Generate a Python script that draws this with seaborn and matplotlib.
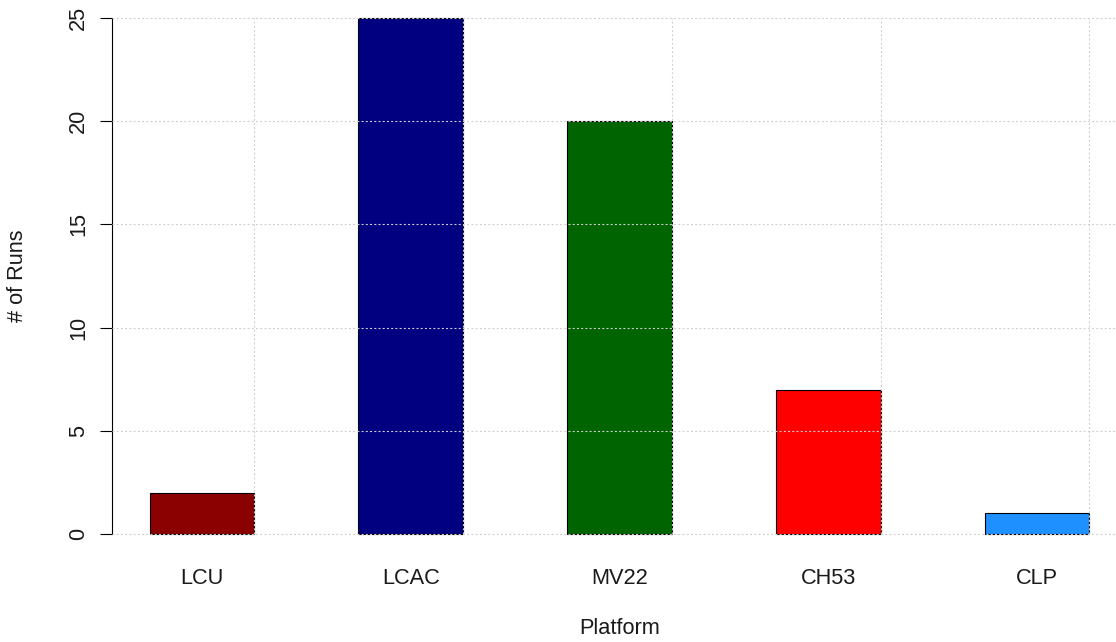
import matplotlib
matplotlib.use("Agg")
import matplotlib.pyplot as plt
import seaborn as sns
import pandas as pd

platforms = ["LCU", "LCAC", "MV22", "CH53", "CLP"]
runs = [2, 25, 20, 7, 1]
colors = ["#8B0000", "#000080", "#006400", "#FF0000", "#1E90FF"]
y_ticks = [0, 5, 10, 15, 20, 25]

sns.set_style("white")
plt.rcParams["font.family"] = ["Liberation Sans", "DejaVu Sans"]

W, H = 1116, 642
fig = plt.figure(figsize=(W / 100, H / 100), dpi=100)
# R-like plotting region (pixel based)
left_px, right_px = 112, 1127
bottom_px, top_px = 554.6, -2.6
ax = fig.add_axes([left_px / W, (H - bottom_px) / H,
                   (right_px - left_px) / W, (bottom_px - top_px) / H])

df = pd.DataFrame({"Platform": platforms, "Runs": runs})
sns.barplot(data=df, x="Platform", y="Runs", hue="Platform",
            palette=dict(zip(platforms, colors)), width=0.5,
            edgecolor="black", linewidth=0.8, legend=False, ax=ax,
            saturation=1, zorder=2)

ax.set_xlim(-0.43, 4.43)
ax.set_ylim(-1, 26)

grid_kw = dict(color="#D0D0D0", linewidth=0.8, linestyle=(0, (1.8, 2.0)), zorder=3)
for yv in y_ticks:
    ax.axhline(yv, **grid_kw)
ax.vlines([i + 0.25 for i in range(len(platforms))], y_ticks[0], y_ticks[-1], **grid_kw)

for s in ["top", "right", "bottom"]:
    ax.spines[s].set_visible(False)
ax.spines["left"].set_bounds(y_ticks[0], y_ticks[-1])
ax.spines["left"].set_linewidth(0.8)
ax.spines["left"].set_color("black")

ax.set_yticks(y_ticks)
ax.set_yticklabels([str(v) for v in y_ticks], rotation=90, va="center")
ax.tick_params(axis="y", direction="out", length=8.6, width=0.8, color="black",
               pad=8, labelsize=15.7, labelcolor="#1a1a1a", left=True)
ax.tick_params(axis="x", length=0, pad=10, labelsize=15.7, labelcolor="#1a1a1a")

ax.set_xlabel("Platform", fontsize=15.7, color="#1a1a1a", va="center")
ax.set_ylabel("# of Runs", fontsize=15.7, color="#1a1a1a", va="center")
ax.xaxis.set_label_coords(0.5, (bottom_px - 629) / (bottom_px - top_px))
ax.yaxis.set_label_coords((18 - left_px) / (right_px - left_px), 0.5)

fig.savefig("out.png", dpi=100)
